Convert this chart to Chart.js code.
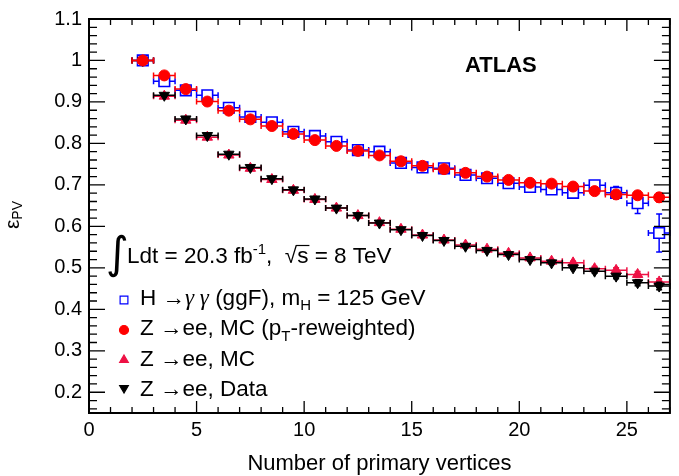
<!DOCTYPE html>
<html>
<head>
<meta charset="utf-8">
<script src="https://cdn.jsdelivr.net/npm/chart.js@4.4.0/dist/chart.umd.min.js"></script>
<style>
  html, body { margin: 0; padding: 0; background: #fff; }
  #wrap { width: 679px; height: 476px; }
</style>
</head>
<body>
<div id="wrap"><canvas id="pv" width="679" height="476"></canvas></div>
<script>
// bin centres, number of primary vertices (bins are 1 wide)
const nPV = [2.5, 3.5, 4.5, 5.5, 6.5, 7.5, 8.5, 9.5, 10.5, 11.5, 12.5, 13.5, 14.5,
  15.5, 16.5, 17.5, 18.5, 19.5, 20.5, 21.5, 22.5, 23.5, 24.5, 25.5, 26.5]
const binHalf = 0.5

// H -> gamma gamma (ggF), mH = 125 GeV
const effHgg = [1.000, 0.950, 0.928, 0.916, 0.886, 0.864, 0.851, 0.828, 0.818, 0.804, 0.784, 0.780, 0.753,
  0.742, 0.740, 0.724, 0.716, 0.704, 0.695, 0.689, 0.681, 0.699, 0.681, 0.656, 0.584]
const errHgg = [0.002, 0.003, 0.003, 0.003, 0.003, 0.003, 0.003, 0.003, 0.003, 0.003, 0.003, 0.003, 0.003,
  0.003, 0.004, 0.004, 0.004, 0.005, 0.005, 0.006, 0.008, 0.012, 0.015, 0.025, 0.046]

// Z -> ee, MC (pT-reweighted)
const effZrw = [1.000, 0.964, 0.931, 0.901, 0.879, 0.858, 0.842, 0.823, 0.808, 0.794, 0.782, 0.771, 0.757,
  0.746, 0.738, 0.729, 0.720, 0.712, 0.705, 0.703, 0.696, 0.685, 0.677, 0.675, 0.670]
const errZrw = [0.001, 0.002, 0.002, 0.002, 0.002, 0.002, 0.002, 0.002, 0.002, 0.002, 0.002, 0.002, 0.002,
  0.002, 0.002, 0.003, 0.003, 0.003, 0.004, 0.004, 0.005, 0.006, 0.007, 0.009, 0.011]

// Z -> ee, MC
const effZmc = [1.000, 0.914, 0.856, 0.815, 0.772, 0.740, 0.713, 0.687, 0.665, 0.644, 0.626, 0.609, 0.593,
  0.579, 0.567, 0.555, 0.545, 0.535, 0.524, 0.516, 0.512, 0.498, 0.494, 0.484, 0.466]
const errZmc = [0.001, 0.002, 0.002, 0.002, 0.002, 0.002, 0.002, 0.002, 0.002, 0.002, 0.002, 0.002, 0.002,
  0.002, 0.002, 0.003, 0.003, 0.003, 0.003, 0.004, 0.004, 0.005, 0.006, 0.007, 0.008]

// Z -> ee, Data
const effData = [1.000, 0.916, 0.859, 0.819, 0.774, 0.742, 0.715, 0.688, 0.666, 0.644, 0.626, 0.608, 0.592,
  0.578, 0.566, 0.552, 0.542, 0.532, 0.520, 0.512, 0.500, 0.492, 0.480, 0.464, 0.456]
const errData = [0.001, 0.002, 0.002, 0.002, 0.002, 0.002, 0.002, 0.002, 0.002, 0.002, 0.002, 0.002, 0.002,
  0.002, 0.002, 0.003, 0.003, 0.003, 0.003, 0.004, 0.004, 0.005, 0.006, 0.007, 0.009]

const xTicks = [0, 5, 10, 15, 20, 25]
const yTicks = [0.2, 0.3, 0.4, 0.5, 0.6, 0.7, 0.8, 0.9, 1.0, 1.1]

const FONT = '"Liberation Sans", Arial, Helvetica, sans-serif'
Chart.defaults.font.family = FONT
Chart.defaults.color = '#000'

function pts (vals) {
  return vals.map((v, i) => ({ x: nPV[i], y: v }))
}

// error bars drawn just under each dataset's markers, ROOT style (gap at marker, end caps)
const errorBars = {
  id: 'errorBars',
  beforeDatasetDraw (chart, args) {
    const ds = chart.data.datasets[args.index]
    if (!ds.errY) return
    const { ctx, scales: { x, y } } = chart
    const gap = ds.errGap || 0
    const cap = 3
    ctx.save()
    ctx.strokeStyle = ds.borderColor
    ctx.lineWidth = 1.5
    ctx.beginPath()
    ds.data.forEach((p, i) => {
      const px = x.getPixelForValue(p.x)
      const py = y.getPixelForValue(p.y)
      const x0 = x.getPixelForValue(p.x - binHalf)
      const x1 = x.getPixelForValue(p.x + binHalf)
      const yHi = y.getPixelForValue(p.y + ds.errY[i])
      const yLo = y.getPixelForValue(p.y - ds.errY[i])
      ctx.moveTo(x0, py); ctx.lineTo(px - gap, py)
      ctx.moveTo(px + gap, py); ctx.lineTo(x1, py)
      ctx.moveTo(x0, py - cap); ctx.lineTo(x0, py + cap)
      ctx.moveTo(x1, py - cap); ctx.lineTo(x1, py + cap)
      if (py - yHi > gap) {
        ctx.moveTo(px, py - gap); ctx.lineTo(px, yHi)
        ctx.moveTo(px - cap, yHi); ctx.lineTo(px + cap, yHi)
      }
      if (yLo - py > gap) {
        ctx.moveTo(px, py + gap); ctx.lineTo(px, yLo)
        ctx.moveTo(px - cap, yLo); ctx.lineTo(px + cap, yLo)
      }
    })
    ctx.stroke()
    ctx.restore()
  }
}

function richText (ctx, x, y, parts) {
  for (const p of parts) {
    ctx.font = p.font
    ctx.fillText(p.t, x, y + (p.dy || 0))
    x += ctx.measureText(p.t).width
  }
  return x
}

// frame with inward ticks on all four sides, plus all the labels
const frame = {
  id: 'frame',
  afterDraw (chart) {
    const { ctx, chartArea: a, scales: { x, y } } = chart
    ctx.save()
    ctx.strokeStyle = '#000'
    ctx.lineWidth = 1.3
    ctx.beginPath()
    for (let v = 0; v <= 27; v++) {
      const px = x.getPixelForValue(v)
      const len = v % 5 === 0 ? 12 : 6
      ctx.moveTo(px, a.bottom); ctx.lineTo(px, a.bottom - len)
      ctx.moveTo(px, a.top); ctx.lineTo(px, a.top + len)
    }
    for (let k = 8; k <= 55; k++) {
      const py = y.getPixelForValue(k * 0.02)
      const len = k % 5 === 0 ? 16 : 8
      ctx.moveTo(a.left, py); ctx.lineTo(a.left + len, py)
      ctx.moveTo(a.right, py); ctx.lineTo(a.right - len, py)
    }
    ctx.stroke()
    ctx.lineWidth = 2
    ctx.strokeRect(a.left, a.top, a.right - a.left, a.bottom - a.top)

    ctx.fillStyle = '#000'
    ctx.textBaseline = 'alphabetic'
    const F = '22.5px ' + FONT
    const S = '15px ' + FONT

    // axis titles
    ctx.textAlign = 'center'
    ctx.font = '22px ' + FONT
    ctx.fillText('Number of primary vertices', (a.left + a.right) / 2, 470)
    ctx.textAlign = 'left'
    ctx.save()
    ctx.translate(19, 229)
    ctx.rotate(-Math.PI / 2)
    richText(ctx, 0, 0, [{ t: 'ε', font: '21px ' + FONT }, { t: 'PV', font: '14px ' + FONT, dy: 3 }])
    ctx.restore()

    // ATLAS label
    ctx.font = 'bold 22px ' + FONT
    ctx.fillText('ATLAS', 465, 72)

    // luminosity line
    ctx.font = '44px "DejaVu Sans"'
    ctx.fillText('∫', 106, 268)
    let xe = richText(ctx, 127, 263, [
      { t: 'Ldt = 20.3 fb', font: F },
      { t: '-1', font: S, dy: -9 },
      { t: ',  ', font: F },
      { t: '√', font: F }
    ])
    const xs = xe
    xe = richText(ctx, xe, 263, [{ t: 's', font: F }])
    ctx.lineWidth = 1.2
    ctx.beginPath()
    ctx.moveTo(xs - 1, 245.5); ctx.lineTo(xe + 1, 245.5)
    ctx.stroke()
    richText(ctx, xe, 263, [{ t: ' = 8 TeV', font: F }])

    // legend
    const G = 'italic 23px "Liberation Serif", serif'
    const rows = [
      [{ t: 'H →', font: F }, { t: 'γ γ', font: G }, { t: ' (ggF), m', font: F }, { t: 'H', font: S, dy: 5 }, { t: ' = 125 GeV', font: F }],
      [{ t: 'Z →ee, MC (p', font: F }, { t: 'T', font: S, dy: 6 }, { t: '-reweighted)', font: F }],
      [{ t: 'Z →ee, MC', font: F }],
      [{ t: 'Z →ee, Data', font: F }]
    ]
    const base = [305, 335, 366, 396]
    rows.forEach((r, i) => richText(ctx, 140, base[i], r))

    const marks = [
      { pointStyle: 'rect', radius: 5.5, rotation: 0, stroke: '#0000ff', fill: 'rgba(0,0,0,0)', y: 300 },
      { pointStyle: 'circle', radius: 4.5, rotation: 0, stroke: '#ff0000', fill: '#ff0000', y: 330 },
      { pointStyle: 'triangle', radius: 5, rotation: 0, stroke: '#ee1144', fill: '#ee1144', y: 360 },
      { pointStyle: 'triangle', radius: 5, rotation: 180, stroke: '#000', fill: '#000', y: 388 }
    ]
    marks.forEach(m => {
      ctx.strokeStyle = m.stroke
      ctx.fillStyle = m.fill
      Chart.helpers.drawPoint(ctx, { pointStyle: m.pointStyle, radius: m.radius, rotation: m.rotation, borderWidth: 1.5 }, 124, m.y)
    })
    ctx.restore()
  }
}

new Chart(document.getElementById('pv'), {
  type: 'scatter',
  data: {
    datasets: [
      {
        label: 'H → γγ (ggF), mH = 125 GeV',
        data: pts(effHgg),
        errY: errHgg,
        errGap: 5.5,
        pointStyle: 'rect',
        pointRadius: 7.5,
        borderColor: '#0000ff',
        backgroundColor: 'rgba(0,0,0,0)',
        pointBorderWidth: 1.6,
        order: 3
      },
      {
        label: 'Z → ee, MC',
        data: pts(effZmc),
        errY: errZmc,
        pointStyle: 'triangle',
        pointRadius: 6,
        borderColor: '#ee1144',
        backgroundColor: '#ee1144',
        pointBorderWidth: 1,
        order: 2
      },
      {
        label: 'Z → ee, Data',
        data: pts(effData),
        errY: errData,
        pointStyle: 'triangle',
        pointRotation: 180,
        pointRadius: 6,
        borderColor: '#000000',
        backgroundColor: '#000000',
        pointBorderWidth: 1,
        order: 1
      },
      {
        label: 'Z → ee, MC (pT-reweighted)',
        data: pts(effZrw),
        errY: errZrw,
        pointStyle: 'circle',
        pointRadius: 5.5,
        borderColor: '#ff0000',
        backgroundColor: '#ff0000',
        pointBorderWidth: 1,
        order: 0
      }
    ]
  },
  options: {
    responsive: false,
    animation: false,
    events: [],
    layout: { padding: { left: 0, right: 9, top: 18, bottom: 0 } },
    plugins: { legend: { display: false }, tooltip: { enabled: false } },
    scales: {
      x: {
        type: 'linear',
        min: 0,
        max: 27,
        grid: { display: false, drawTicks: false },
        border: { display: false },
        afterFit: s => { s.height = 63 },
        afterBuildTicks: s => { s.ticks = xTicks.map(v => ({ value: v })) },
        ticks: { padding: 5, maxRotation: 0, autoSkip: false, font: { size: 20 } }
      },
      y: {
        type: 'linear',
        min: 0.15,
        max: 1.1,
        grid: { display: false, drawTicks: false },
        border: { display: false },
        afterFit: s => { s.width = 89 },
        afterBuildTicks: s => { s.ticks = yTicks.map(v => ({ value: v })) },
        ticks: {
          padding: 7,
          autoSkip: false,
          font: { size: 20 },
          callback: v => String(+v.toFixed(2))
        }
      }
    }
  },
  plugins: [errorBars, frame]
})
</script>
</body>
</html>
